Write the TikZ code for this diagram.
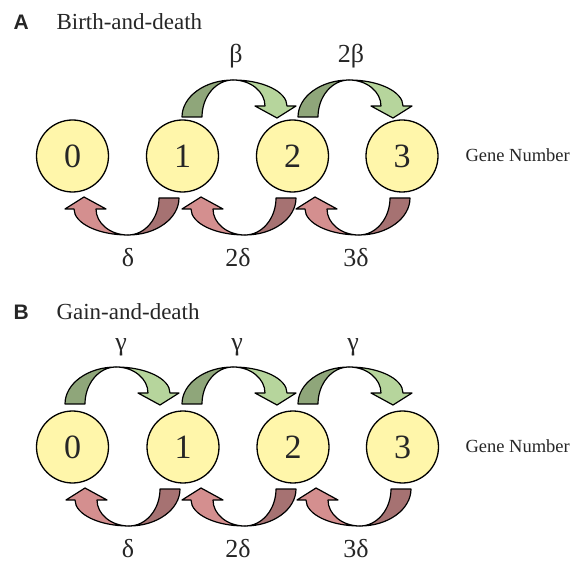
\documentclass[tikz,border=0pt]{standalone}
\usepackage{fontspec}
\setmainfont{Liberation Serif}
\newfontfamily\panelfont{Liberation Sans}
\definecolor{darkgreen}{HTML}{8FA67A}
\definecolor{lightgreen}{HTML}{B6D59C}
\definecolor{darkred}{HTML}{A67272}
\definecolor{lightred}{HTML}{D48F8F}
\definecolor{circfill}{HTML}{FFF6AA}
\tikzset{
  genecirc/.style={circle, draw=black, line width=1.3pt, fill=circfill, minimum size=72pt, inner sep=0pt, font=\fontsize{34}{38}\selectfont, text=black!85},
  arrowline/.style={draw=black, line width=1.2pt, line join=round},
  ratelab/.style={anchor=base, font=\fontsize{26}{30}\selectfont, text=black!85},
  titlelab/.style={anchor=base west, font=\fontsize{23}{27}\selectfont, text=black!85},
  panellab/.style={anchor=base west, font=\panelfont\bfseries\fontsize{21}{24}\selectfont, text=black!85},
  genelab/.style={anchor=base west, font=\fontsize{18.5}{22}\selectfont, text=black!85}
}
\newcommand{\gdarrow}[6]{%
  \begin{scope}[shift={(#1)}, shift={(#2,#3)}, scale=#4]
    \filldraw[arrowline, fill=#5] (0,0) .. controls (0,-20.4) and (22.8,-37) .. (51,-37)
      .. controls (33.9,-37) and (20,-20.4) .. (20,0) -- cycle;
    \filldraw[arrowline, fill=#6] (51,-37) .. controls (80.8,-37) and (105,-25.4) .. (105,-11)
      -- (114,-11) -- (95,1) -- (73,-11) -- (83,-11)
      .. controls (83,-25.4) and (68.7,-37) .. (51,-37) -- cycle;
  \end{scope}}
\begin{document}
\begin{tikzpicture}[x=1pt,y=-1pt]
\useasboundingbox (0,0) rectangle (571,564);
% Panel A
\node[panellab] (pA) at (10,30) {A};
\node[titlelab] (tA) at (53,30) {Birth-and-death};
\node[genecirc] (a0) at (72.5,156) {0};
\node[genecirc] (a1) at (182.5,156) {1};
\node[genecirc] (a2) at (292.5,156) {2};
\node[genecirc] (a3) at (402,156) {3};
\node[genelab] (gA) at (462,162) {Gene Number};
\gdarrow{a1}{-0.5}{-39}{1}{darkgreen}{lightgreen}
\gdarrow{a2}{5.5}{-39}{1}{darkgreen}{lightgreen}
\gdarrow{a1}{-3.5}{42}{-1}{darkred}{lightred}
\gdarrow{a2}{3.5}{42}{-1}{darkred}{lightred}
\gdarrow{a3}{8}{42}{-1}{darkred}{lightred}
\node[ratelab] (lb1) at (236,63) {β};
\node[ratelab] (lb2) at (351,63) {2β};
\node[ratelab] (ld1) at (128,267) {δ};
\node[ratelab] (ld2) at (238,267) {2δ};
\node[ratelab] (ld3) at (356,267) {3δ};
% Panel B
\node[panellab] (pB) at (10,320) {B};
\node[titlelab] (tB) at (53,320) {Gain-and-death};
\node[genecirc] (b0) at (72.5,447) {0};
\node[genecirc] (b1) at (183,447) {1};
\node[genecirc] (b2) at (293,447) {2};
\node[genecirc] (b3) at (402.5,447) {3};
\node[genelab] (gB) at (462,452) {Gene Number};
\gdarrow{b0}{-7.5}{-43}{1}{darkgreen}{lightgreen}
\gdarrow{b1}{-1}{-43}{1}{darkgreen}{lightgreen}
\gdarrow{b2}{5}{-43}{1}{darkgreen}{lightgreen}
\gdarrow{b1}{-3}{42}{-1}{darkred}{lightred}
\gdarrow{b2}{3}{42}{-1}{darkred}{lightred}
\gdarrow{b3}{8.5}{42}{-1}{darkred}{lightred}
\node[ratelab] (lg1) at (121,351) {γ};
\node[ratelab] (lg2) at (237,351) {γ};
\node[ratelab] (lg3) at (353,351) {γ};
\node[ratelab] (le1) at (128,557) {δ};
\node[ratelab] (le2) at (238,557) {2δ};
\node[ratelab] (le3) at (356,557) {3δ};
\end{tikzpicture}
\end{document}
